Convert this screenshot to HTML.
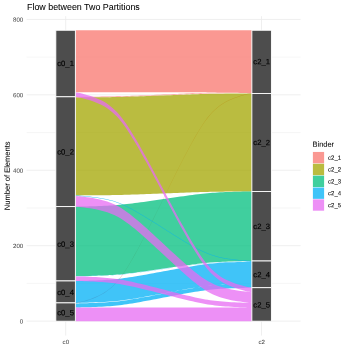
<!DOCTYPE html>
<html><head><meta charset="utf-8"><style>
html,body{margin:0;padding:0;background:#fff;}
svg{display:block;font-family:"Liberation Sans",sans-serif;will-change:transform;}
</style></head><body>
<svg width="349" height="349" viewBox="0 0 349 349">
<rect width="349" height="349" fill="#ffffff"/>
<line x1="26.6" x2="300.6" y1="283.39" y2="283.39" stroke="#ebebeb" stroke-width="0.45"/>
<line x1="26.6" x2="300.6" y1="207.96" y2="207.96" stroke="#ebebeb" stroke-width="0.45"/>
<line x1="26.6" x2="300.6" y1="132.54" y2="132.54" stroke="#ebebeb" stroke-width="0.45"/>
<line x1="26.6" x2="300.6" y1="57.11" y2="57.11" stroke="#ebebeb" stroke-width="0.45"/>
<line x1="26.6" x2="300.6" y1="321.10" y2="321.10" stroke="#ebebeb" stroke-width="0.82"/>
<line x1="26.6" x2="300.6" y1="245.67" y2="245.67" stroke="#ebebeb" stroke-width="0.82"/>
<line x1="26.6" x2="300.6" y1="170.25" y2="170.25" stroke="#ebebeb" stroke-width="0.82"/>
<line x1="26.6" x2="300.6" y1="94.82" y2="94.82" stroke="#ebebeb" stroke-width="0.82"/>
<line x1="26.6" x2="300.6" y1="19.40" y2="19.40" stroke="#ebebeb" stroke-width="0.82"/>
<line x1="65.7" x2="65.7" y1="16.20" y2="335.60" stroke="#ebebeb" stroke-width="0.82"/>
<line x1="261.5" x2="261.5" y1="16.20" y2="335.60" stroke="#ebebeb" stroke-width="0.82"/>
<path d="M75.38,30.25 L75.41,30.25 L75.58,30.25 L76.03,30.25 L76.85,30.25 L78.08,30.25 L79.76,30.25 L81.84,30.25 L84.28,30.25 L86.99,30.25 L89.88,30.25 L92.87,30.25 L95.88,30.25 L98.84,30.25 L101.73,30.25 L104.52,30.25 L107.21,30.25 L109.80,30.25 L112.30,30.25 L114.74,30.25 L117.14,30.25 L119.53,30.25 L121.93,30.25 L124.36,30.25 L126.86,30.25 L129.42,30.25 L132.07,30.25 L134.82,30.25 L137.66,30.25 L140.61,30.25 L143.67,30.25 L146.82,30.25 L150.06,30.25 L153.38,30.25 L156.76,30.25 L160.19,30.25 L163.63,30.25 L167.07,30.25 L170.50,30.25 L173.88,30.25 L177.20,30.25 L180.44,30.25 L183.59,30.25 L186.65,30.25 L189.60,30.25 L192.44,30.25 L195.19,30.25 L197.84,30.25 L200.40,30.25 L202.90,30.25 L205.33,30.25 L207.73,30.25 L210.12,30.25 L212.52,30.25 L214.96,30.25 L217.46,30.25 L220.05,30.25 L222.74,30.25 L225.53,30.25 L228.42,30.25 L231.38,30.25 L234.39,30.25 L237.38,30.25 L240.27,30.25 L242.98,30.25 L245.42,30.25 L247.50,30.25 L249.18,30.25 L250.41,30.25 L251.23,30.25 L251.68,30.25 L251.85,30.25 L251.88,30.25 L251.88,92.30 L251.85,92.30 L251.68,92.30 L251.23,92.30 L250.41,92.30 L249.18,92.30 L247.50,92.30 L245.42,92.30 L242.98,92.30 L240.27,92.30 L237.38,92.30 L234.39,92.30 L231.38,92.30 L228.42,92.30 L225.53,92.30 L222.74,92.30 L220.05,92.30 L217.46,92.30 L214.96,92.30 L212.52,92.30 L210.12,92.30 L207.73,92.30 L205.33,92.30 L202.90,92.30 L200.40,92.30 L197.84,92.30 L195.19,92.30 L192.44,92.30 L189.60,92.30 L186.65,92.30 L183.59,92.30 L180.44,92.30 L177.20,92.30 L173.88,92.30 L170.50,92.30 L167.07,92.30 L163.63,92.30 L160.19,92.30 L156.76,92.30 L153.38,92.30 L150.06,92.30 L146.82,92.30 L143.67,92.30 L140.61,92.30 L137.66,92.30 L134.82,92.30 L132.07,92.30 L129.42,92.30 L126.86,92.30 L124.36,92.30 L121.93,92.30 L119.53,92.30 L117.14,92.30 L114.74,92.30 L112.30,92.30 L109.80,92.30 L107.21,92.30 L104.52,92.30 L101.73,92.30 L98.84,92.30 L95.88,92.30 L92.87,92.30 L89.88,92.30 L86.99,92.30 L84.28,92.30 L81.84,92.30 L79.76,92.30 L78.08,92.30 L76.85,92.30 L76.03,92.30 L75.58,92.30 L75.41,92.30 L75.38,92.30Z M75.38,96.80 L75.41,96.80 L75.58,96.80 L76.03,96.80 L76.85,96.79 L78.08,96.79 L79.76,96.78 L81.84,96.77 L84.28,96.76 L86.99,96.74 L89.88,96.72 L92.87,96.70 L95.88,96.67 L98.84,96.64 L101.73,96.61 L104.52,96.57 L107.21,96.54 L109.80,96.49 L112.30,96.45 L114.74,96.39 L117.14,96.34 L119.53,96.28 L121.93,96.21 L124.36,96.13 L126.86,96.05 L129.42,95.96 L132.07,95.86 L134.82,95.76 L137.66,95.65 L140.61,95.53 L143.67,95.40 L146.82,95.27 L150.06,95.14 L153.38,94.99 L156.76,94.85 L160.19,94.70 L163.63,94.55 L167.07,94.40 L170.50,94.25 L173.88,94.11 L177.20,93.96 L180.44,93.83 L183.59,93.70 L186.65,93.57 L189.60,93.45 L192.44,93.34 L195.19,93.24 L197.84,93.14 L200.40,93.05 L202.90,92.97 L205.33,92.89 L207.73,92.82 L210.12,92.76 L212.52,92.71 L214.96,92.65 L217.46,92.61 L220.05,92.56 L222.74,92.53 L225.53,92.49 L228.42,92.46 L231.38,92.43 L234.39,92.40 L237.38,92.38 L240.27,92.36 L242.98,92.34 L245.42,92.33 L247.50,92.32 L249.18,92.31 L250.41,92.31 L251.23,92.30 L251.68,92.30 L251.85,92.30 L251.88,92.30 L251.88,92.90 L251.85,92.90 L251.68,92.90 L251.23,92.90 L250.41,92.91 L249.18,92.91 L247.50,92.92 L245.42,92.93 L242.98,92.94 L240.27,92.96 L237.38,92.98 L234.39,93.00 L231.38,93.03 L228.42,93.06 L225.53,93.09 L222.74,93.13 L220.05,93.16 L217.46,93.21 L214.96,93.25 L212.52,93.31 L210.12,93.36 L207.73,93.42 L205.33,93.49 L202.90,93.57 L200.40,93.65 L197.84,93.74 L195.19,93.84 L192.44,93.94 L189.60,94.05 L186.65,94.17 L183.59,94.30 L180.44,94.43 L177.20,94.56 L173.88,94.71 L170.50,94.85 L167.07,95.00 L163.63,95.15 L160.19,95.30 L156.76,95.45 L153.38,95.59 L150.06,95.74 L146.82,95.87 L143.67,96.00 L140.61,96.13 L137.66,96.25 L134.82,96.36 L132.07,96.46 L129.42,96.56 L126.86,96.65 L124.36,96.73 L121.93,96.81 L119.53,96.88 L117.14,96.94 L114.74,96.99 L112.30,97.05 L109.80,97.09 L107.21,97.14 L104.52,97.17 L101.73,97.21 L98.84,97.24 L95.88,97.27 L92.87,97.30 L89.88,97.32 L86.99,97.34 L84.28,97.36 L81.84,97.37 L79.76,97.38 L78.08,97.39 L76.85,97.39 L76.03,97.40 L75.58,97.40 L75.41,97.40 L75.38,97.40Z M75.38,302.90 L75.41,302.90 L75.58,302.87 L76.03,302.79 L76.85,302.64 L78.08,302.40 L79.76,302.03 L81.84,301.53 L84.28,300.89 L86.99,300.10 L89.88,299.17 L92.87,298.09 L95.88,296.87 L98.84,295.51 L101.73,294.01 L104.52,292.36 L107.21,290.55 L109.80,288.56 L112.30,286.39 L114.74,284.00 L117.14,281.36 L119.53,278.46 L121.93,275.26 L124.36,271.75 L126.86,267.90 L129.42,263.73 L132.07,259.21 L134.82,254.36 L137.66,249.16 L140.61,243.63 L143.67,237.78 L146.82,231.64 L150.06,225.23 L153.38,218.60 L156.76,211.80 L160.19,204.88 L163.63,197.90 L167.07,190.92 L170.50,184.00 L173.88,177.20 L177.20,170.57 L180.44,164.16 L183.59,158.02 L186.65,152.17 L189.60,146.64 L192.44,141.44 L195.19,136.59 L197.84,132.07 L200.40,127.90 L202.90,124.05 L205.33,120.54 L207.73,117.34 L210.12,114.44 L212.52,111.80 L214.96,109.41 L217.46,107.24 L220.05,105.25 L222.74,103.44 L225.53,101.79 L228.42,100.29 L231.38,98.93 L234.39,97.71 L237.38,96.63 L240.27,95.70 L242.98,94.91 L245.42,94.27 L247.50,93.77 L249.18,93.40 L250.41,93.16 L251.23,93.01 L251.68,92.93 L251.85,92.90 L251.88,92.90 L251.88,93.45 L251.85,93.45 L251.68,93.48 L251.23,93.56 L250.41,93.71 L249.18,93.95 L247.50,94.32 L245.42,94.82 L242.98,95.46 L240.27,96.25 L237.38,97.18 L234.39,98.26 L231.38,99.48 L228.42,100.84 L225.53,102.34 L222.74,103.99 L220.05,105.80 L217.46,107.79 L214.96,109.96 L212.52,112.35 L210.12,114.99 L207.73,117.89 L205.33,121.09 L202.90,124.60 L200.40,128.45 L197.84,132.62 L195.19,137.14 L192.44,141.99 L189.60,147.19 L186.65,152.72 L183.59,158.57 L180.44,164.71 L177.20,171.12 L173.88,177.75 L170.50,184.55 L167.07,191.47 L163.63,198.45 L160.19,205.43 L156.76,212.35 L153.38,219.15 L150.06,225.78 L146.82,232.19 L143.67,238.33 L140.61,244.18 L137.66,249.71 L134.82,254.91 L132.07,259.76 L129.42,264.28 L126.86,268.45 L124.36,272.30 L121.93,275.81 L119.53,279.01 L117.14,281.91 L114.74,284.55 L112.30,286.94 L109.80,289.11 L107.21,291.10 L104.52,292.91 L101.73,294.56 L98.84,296.06 L95.88,297.42 L92.87,298.64 L89.88,299.72 L86.99,300.65 L84.28,301.44 L81.84,302.08 L79.76,302.58 L78.08,302.95 L76.85,303.19 L76.03,303.34 L75.58,303.42 L75.41,303.45 L75.38,303.45Z" fill="#F8766D" fill-opacity="0.75"/>
<path d="M75.38,97.40 L75.41,97.40 L75.58,97.40 L76.03,97.40 L76.85,97.40 L78.08,97.39 L79.76,97.38 L81.84,97.37 L84.28,97.36 L86.99,97.35 L89.88,97.33 L92.87,97.31 L95.88,97.29 L98.84,97.26 L101.73,97.23 L104.52,97.20 L107.21,97.17 L109.80,97.13 L112.30,97.09 L114.74,97.04 L117.14,96.99 L119.53,96.94 L121.93,96.88 L124.36,96.81 L126.86,96.74 L129.42,96.66 L132.07,96.58 L134.82,96.49 L137.66,96.39 L140.61,96.29 L143.67,96.18 L146.82,96.06 L150.06,95.94 L153.38,95.81 L156.76,95.69 L160.19,95.56 L163.63,95.42 L167.07,95.29 L170.50,95.16 L173.88,95.04 L177.20,94.91 L180.44,94.79 L183.59,94.67 L186.65,94.56 L189.60,94.46 L192.44,94.36 L195.19,94.27 L197.84,94.19 L200.40,94.11 L202.90,94.04 L205.33,93.97 L207.73,93.91 L210.12,93.86 L212.52,93.81 L214.96,93.76 L217.46,93.72 L220.05,93.68 L222.74,93.65 L225.53,93.62 L228.42,93.59 L231.38,93.56 L234.39,93.54 L237.38,93.52 L240.27,93.50 L242.98,93.49 L245.42,93.48 L247.50,93.47 L249.18,93.46 L250.41,93.45 L251.23,93.45 L251.68,93.45 L251.85,93.45 L251.88,93.45 L251.88,191.45 L251.85,191.45 L251.68,191.45 L251.23,191.45 L250.41,191.45 L249.18,191.46 L247.50,191.47 L245.42,191.48 L242.98,191.49 L240.27,191.50 L237.38,191.52 L234.39,191.54 L231.38,191.56 L228.42,191.59 L225.53,191.62 L222.74,191.65 L220.05,191.68 L217.46,191.72 L214.96,191.76 L212.52,191.81 L210.12,191.86 L207.73,191.91 L205.33,191.97 L202.90,192.04 L200.40,192.11 L197.84,192.19 L195.19,192.27 L192.44,192.36 L189.60,192.46 L186.65,192.56 L183.59,192.67 L180.44,192.79 L177.20,192.91 L173.88,193.04 L170.50,193.16 L167.07,193.29 L163.63,193.42 L160.19,193.56 L156.76,193.69 L153.38,193.81 L150.06,193.94 L146.82,194.06 L143.67,194.18 L140.61,194.29 L137.66,194.39 L134.82,194.49 L132.07,194.58 L129.42,194.66 L126.86,194.74 L124.36,194.81 L121.93,194.88 L119.53,194.94 L117.14,194.99 L114.74,195.04 L112.30,195.09 L109.80,195.13 L107.21,195.17 L104.52,195.20 L101.73,195.23 L98.84,195.26 L95.88,195.29 L92.87,195.31 L89.88,195.33 L86.99,195.35 L84.28,195.36 L81.84,195.37 L79.76,195.38 L78.08,195.39 L76.85,195.40 L76.03,195.40 L75.58,195.40 L75.41,195.40 L75.38,195.40Z" fill="#A3A500" fill-opacity="0.75"/>
<path d="M75.38,206.60 L75.41,206.60 L75.58,206.60 L76.03,206.59 L76.85,206.58 L78.08,206.56 L79.76,206.54 L81.84,206.50 L84.28,206.46 L86.99,206.40 L89.88,206.33 L92.87,206.25 L95.88,206.16 L98.84,206.07 L101.73,205.96 L104.52,205.84 L107.21,205.71 L109.80,205.57 L112.30,205.41 L114.74,205.24 L117.14,205.05 L119.53,204.84 L121.93,204.61 L124.36,204.35 L126.86,204.07 L129.42,203.77 L132.07,203.45 L134.82,203.10 L137.66,202.72 L140.61,202.32 L143.67,201.90 L146.82,201.46 L150.06,201.00 L153.38,200.52 L156.76,200.03 L160.19,199.53 L163.63,199.03 L167.07,198.52 L170.50,198.02 L173.88,197.53 L177.20,197.05 L180.44,196.59 L183.59,196.15 L186.65,195.73 L189.60,195.33 L192.44,194.95 L195.19,194.60 L197.84,194.28 L200.40,193.97 L202.90,193.70 L205.33,193.44 L207.73,193.21 L210.12,193.00 L212.52,192.81 L214.96,192.64 L217.46,192.48 L220.05,192.34 L222.74,192.21 L225.53,192.09 L228.42,191.98 L231.38,191.89 L234.39,191.80 L237.38,191.72 L240.27,191.65 L242.98,191.59 L245.42,191.55 L247.50,191.51 L249.18,191.49 L250.41,191.47 L251.23,191.46 L251.68,191.45 L251.85,191.45 L251.88,191.45 L251.88,261.00 L251.85,261.00 L251.68,261.00 L251.23,261.01 L250.41,261.02 L249.18,261.04 L247.50,261.06 L245.42,261.10 L242.98,261.14 L240.27,261.20 L237.38,261.27 L234.39,261.35 L231.38,261.44 L228.42,261.53 L225.53,261.64 L222.74,261.76 L220.05,261.89 L217.46,262.03 L214.96,262.19 L212.52,262.36 L210.12,262.55 L207.73,262.76 L205.33,262.99 L202.90,263.25 L200.40,263.53 L197.84,263.83 L195.19,264.15 L192.44,264.50 L189.60,264.88 L186.65,265.28 L183.59,265.70 L180.44,266.14 L177.20,266.60 L173.88,267.08 L170.50,267.57 L167.07,268.07 L163.63,268.57 L160.19,269.08 L156.76,269.58 L153.38,270.07 L150.06,270.55 L146.82,271.01 L143.67,271.45 L140.61,271.87 L137.66,272.27 L134.82,272.65 L132.07,273.00 L129.42,273.32 L126.86,273.62 L124.36,273.90 L121.93,274.16 L119.53,274.39 L117.14,274.60 L114.74,274.79 L112.30,274.96 L109.80,275.12 L107.21,275.26 L104.52,275.39 L101.73,275.51 L98.84,275.62 L95.88,275.71 L92.87,275.80 L89.88,275.88 L86.99,275.95 L84.28,276.01 L81.84,276.05 L79.76,276.09 L78.08,276.11 L76.85,276.13 L76.03,276.14 L75.58,276.15 L75.41,276.15 L75.38,276.15Z" fill="#00BF7D" fill-opacity="0.75"/>
<path d="M75.38,195.40 L75.41,195.40 L75.58,195.41 L76.03,195.43 L76.85,195.48 L78.08,195.56 L79.76,195.67 L81.84,195.83 L84.28,196.03 L86.99,196.27 L89.88,196.57 L92.87,196.90 L95.88,197.28 L98.84,197.71 L101.73,198.18 L104.52,198.69 L107.21,199.26 L109.80,199.88 L112.30,200.56 L114.74,201.30 L117.14,202.13 L119.53,203.03 L121.93,204.03 L124.36,205.13 L126.86,206.33 L129.42,207.64 L132.07,209.05 L134.82,210.56 L137.66,212.19 L140.61,213.91 L143.67,215.74 L146.82,217.66 L150.06,219.66 L153.38,221.73 L156.76,223.86 L160.19,226.02 L163.63,228.20 L167.07,230.38 L170.50,232.54 L173.88,234.67 L177.20,236.74 L180.44,238.74 L183.59,240.66 L186.65,242.49 L189.60,244.21 L192.44,245.84 L195.19,247.35 L197.84,248.76 L200.40,250.07 L202.90,251.27 L205.33,252.37 L207.73,253.37 L210.12,254.27 L212.52,255.10 L214.96,255.84 L217.46,256.52 L220.05,257.14 L222.74,257.71 L225.53,258.22 L228.42,258.69 L231.38,259.12 L234.39,259.50 L237.38,259.83 L240.27,260.13 L242.98,260.37 L245.42,260.57 L247.50,260.73 L249.18,260.84 L250.41,260.92 L251.23,260.97 L251.68,260.99 L251.85,261.00 L251.88,261.00 L251.88,261.50 L251.85,261.50 L251.68,261.49 L251.23,261.47 L250.41,261.42 L249.18,261.34 L247.50,261.23 L245.42,261.07 L242.98,260.87 L240.27,260.63 L237.38,260.33 L234.39,260.00 L231.38,259.62 L228.42,259.19 L225.53,258.72 L222.74,258.21 L220.05,257.64 L217.46,257.02 L214.96,256.34 L212.52,255.60 L210.12,254.77 L207.73,253.87 L205.33,252.87 L202.90,251.77 L200.40,250.57 L197.84,249.26 L195.19,247.85 L192.44,246.34 L189.60,244.71 L186.65,242.99 L183.59,241.16 L180.44,239.24 L177.20,237.24 L173.88,235.17 L170.50,233.04 L167.07,230.88 L163.63,228.70 L160.19,226.52 L156.76,224.36 L153.38,222.23 L150.06,220.16 L146.82,218.16 L143.67,216.24 L140.61,214.41 L137.66,212.69 L134.82,211.06 L132.07,209.55 L129.42,208.14 L126.86,206.83 L124.36,205.63 L121.93,204.53 L119.53,203.53 L117.14,202.63 L114.74,201.80 L112.30,201.06 L109.80,200.38 L107.21,199.76 L104.52,199.19 L101.73,198.68 L98.84,198.21 L95.88,197.78 L92.87,197.40 L89.88,197.07 L86.99,196.77 L84.28,196.53 L81.84,196.33 L79.76,196.17 L78.08,196.06 L76.85,195.98 L76.03,195.93 L75.58,195.91 L75.41,195.90 L75.38,195.90Z M75.38,276.15 L75.41,276.15 L75.58,276.15 L76.03,276.14 L76.85,276.13 L78.08,276.11 L79.76,276.09 L81.84,276.05 L84.28,276.01 L86.99,275.95 L89.88,275.89 L92.87,275.81 L95.88,275.73 L98.84,275.63 L101.73,275.53 L104.52,275.41 L107.21,275.29 L109.80,275.15 L112.30,275.00 L114.74,274.83 L117.14,274.65 L119.53,274.45 L121.93,274.22 L124.36,273.98 L126.86,273.71 L129.42,273.42 L132.07,273.10 L134.82,272.76 L137.66,272.40 L140.61,272.02 L143.67,271.61 L146.82,271.18 L150.06,270.73 L153.38,270.27 L156.76,269.79 L160.19,269.31 L163.63,268.82 L167.07,268.34 L170.50,267.86 L173.88,267.38 L177.20,266.92 L180.44,266.47 L183.59,266.04 L186.65,265.63 L189.60,265.25 L192.44,264.89 L195.19,264.55 L197.84,264.23 L200.40,263.94 L202.90,263.67 L205.33,263.43 L207.73,263.20 L210.12,263.00 L212.52,262.82 L214.96,262.65 L217.46,262.50 L220.05,262.36 L222.74,262.24 L225.53,262.12 L228.42,262.02 L231.38,261.92 L234.39,261.84 L237.38,261.76 L240.27,261.70 L242.98,261.64 L245.42,261.60 L247.50,261.56 L249.18,261.54 L250.41,261.52 L251.23,261.51 L251.68,261.50 L251.85,261.50 L251.88,261.50 L251.88,261.70 L251.85,261.70 L251.68,261.70 L251.23,261.71 L250.41,261.72 L249.18,261.74 L247.50,261.76 L245.42,261.80 L242.98,261.84 L240.27,261.90 L237.38,261.96 L234.39,262.04 L231.38,262.12 L228.42,262.22 L225.53,262.32 L222.74,262.44 L220.05,262.56 L217.46,262.70 L214.96,262.85 L212.52,263.02 L210.12,263.20 L207.73,263.40 L205.33,263.63 L202.90,263.87 L200.40,264.14 L197.84,264.43 L195.19,264.75 L192.44,265.09 L189.60,265.45 L186.65,265.83 L183.59,266.24 L180.44,266.67 L177.20,267.12 L173.88,267.58 L170.50,268.06 L167.07,268.54 L163.63,269.02 L160.19,269.51 L156.76,269.99 L153.38,270.47 L150.06,270.93 L146.82,271.38 L143.67,271.81 L140.61,272.22 L137.66,272.60 L134.82,272.96 L132.07,273.30 L129.42,273.62 L126.86,273.91 L124.36,274.18 L121.93,274.42 L119.53,274.65 L117.14,274.85 L114.74,275.03 L112.30,275.20 L109.80,275.35 L107.21,275.49 L104.52,275.61 L101.73,275.73 L98.84,275.83 L95.88,275.93 L92.87,276.01 L89.88,276.09 L86.99,276.15 L84.28,276.21 L81.84,276.25 L79.76,276.29 L78.08,276.31 L76.85,276.33 L76.03,276.34 L75.58,276.35 L75.41,276.35 L75.38,276.35Z M75.38,280.95 L75.41,280.95 L75.58,280.95 L76.03,280.94 L76.85,280.93 L78.08,280.90 L79.76,280.87 L81.84,280.82 L84.28,280.77 L86.99,280.69 L89.88,280.61 L92.87,280.51 L95.88,280.40 L98.84,280.27 L101.73,280.13 L104.52,279.98 L107.21,279.82 L109.80,279.64 L112.30,279.44 L114.74,279.22 L117.14,278.98 L119.53,278.71 L121.93,278.42 L124.36,278.09 L126.86,277.74 L129.42,277.36 L132.07,276.95 L134.82,276.50 L137.66,276.02 L140.61,275.52 L143.67,274.98 L146.82,274.42 L150.06,273.83 L153.38,273.22 L156.76,272.60 L160.19,271.96 L163.63,271.32 L167.07,270.69 L170.50,270.05 L173.88,269.43 L177.20,268.82 L180.44,268.23 L183.59,267.67 L186.65,267.13 L189.60,266.63 L192.44,266.15 L195.19,265.70 L197.84,265.29 L200.40,264.91 L202.90,264.56 L205.33,264.23 L207.73,263.94 L210.12,263.67 L212.52,263.43 L214.96,263.21 L217.46,263.01 L220.05,262.83 L222.74,262.67 L225.53,262.52 L228.42,262.38 L231.38,262.25 L234.39,262.14 L237.38,262.04 L240.27,261.96 L242.98,261.88 L245.42,261.83 L247.50,261.78 L249.18,261.75 L250.41,261.72 L251.23,261.71 L251.68,261.70 L251.85,261.70 L251.88,261.70 L251.88,283.65 L251.85,283.65 L251.68,283.65 L251.23,283.66 L250.41,283.67 L249.18,283.70 L247.50,283.73 L245.42,283.78 L242.98,283.83 L240.27,283.91 L237.38,283.99 L234.39,284.09 L231.38,284.20 L228.42,284.33 L225.53,284.47 L222.74,284.62 L220.05,284.78 L217.46,284.96 L214.96,285.16 L212.52,285.38 L210.12,285.62 L207.73,285.89 L205.33,286.18 L202.90,286.51 L200.40,286.86 L197.84,287.24 L195.19,287.65 L192.44,288.10 L189.60,288.58 L186.65,289.08 L183.59,289.62 L180.44,290.18 L177.20,290.77 L173.88,291.38 L170.50,292.00 L167.07,292.64 L163.63,293.27 L160.19,293.91 L156.76,294.55 L153.38,295.17 L150.06,295.78 L146.82,296.37 L143.67,296.93 L140.61,297.47 L137.66,297.97 L134.82,298.45 L132.07,298.90 L129.42,299.31 L126.86,299.69 L124.36,300.04 L121.93,300.37 L119.53,300.66 L117.14,300.93 L114.74,301.17 L112.30,301.39 L109.80,301.59 L107.21,301.77 L104.52,301.93 L101.73,302.08 L98.84,302.22 L95.88,302.35 L92.87,302.46 L89.88,302.56 L86.99,302.64 L84.28,302.72 L81.84,302.77 L79.76,302.82 L78.08,302.85 L76.85,302.88 L76.03,302.89 L75.58,302.90 L75.41,302.90 L75.38,302.90Z M75.38,303.45 L75.41,303.45 L75.58,303.45 L76.03,303.44 L76.85,303.43 L78.08,303.40 L79.76,303.37 L81.84,303.32 L84.28,303.26 L86.99,303.19 L89.88,303.10 L92.87,303.00 L95.88,302.88 L98.84,302.75 L101.73,302.61 L104.52,302.46 L107.21,302.29 L109.80,302.10 L112.30,301.89 L114.74,301.67 L117.14,301.42 L119.53,301.15 L121.93,300.84 L124.36,300.51 L126.86,300.15 L129.42,299.76 L132.07,299.33 L134.82,298.87 L137.66,298.38 L140.61,297.86 L143.67,297.31 L146.82,296.73 L150.06,296.13 L153.38,295.50 L156.76,294.86 L160.19,294.21 L163.63,293.55 L167.07,292.89 L170.50,292.24 L173.88,291.60 L177.20,290.97 L180.44,290.37 L183.59,289.79 L186.65,289.24 L189.60,288.72 L192.44,288.23 L195.19,287.77 L197.84,287.34 L200.40,286.95 L202.90,286.59 L205.33,286.26 L207.73,285.95 L210.12,285.68 L212.52,285.43 L214.96,285.21 L217.46,285.00 L220.05,284.81 L222.74,284.64 L225.53,284.49 L228.42,284.35 L231.38,284.22 L234.39,284.10 L237.38,284.00 L240.27,283.91 L242.98,283.84 L245.42,283.78 L247.50,283.73 L249.18,283.70 L250.41,283.67 L251.23,283.66 L251.68,283.65 L251.85,283.65 L251.88,283.65 L251.88,287.70 L251.85,287.70 L251.68,287.70 L251.23,287.71 L250.41,287.72 L249.18,287.75 L247.50,287.78 L245.42,287.83 L242.98,287.89 L240.27,287.96 L237.38,288.05 L234.39,288.15 L231.38,288.27 L228.42,288.40 L225.53,288.54 L222.74,288.69 L220.05,288.86 L217.46,289.05 L214.96,289.26 L212.52,289.48 L210.12,289.73 L207.73,290.00 L205.33,290.31 L202.90,290.64 L200.40,291.00 L197.84,291.39 L195.19,291.82 L192.44,292.28 L189.60,292.77 L186.65,293.29 L183.59,293.84 L180.44,294.42 L177.20,295.02 L173.88,295.65 L170.50,296.29 L167.07,296.94 L163.63,297.60 L160.19,298.26 L156.76,298.91 L153.38,299.55 L150.06,300.18 L146.82,300.78 L143.67,301.36 L140.61,301.91 L137.66,302.43 L134.82,302.92 L132.07,303.38 L129.42,303.81 L126.86,304.20 L124.36,304.56 L121.93,304.89 L119.53,305.20 L117.14,305.47 L114.74,305.72 L112.30,305.94 L109.80,306.15 L107.21,306.34 L104.52,306.51 L101.73,306.66 L98.84,306.80 L95.88,306.93 L92.87,307.05 L89.88,307.15 L86.99,307.24 L84.28,307.31 L81.84,307.37 L79.76,307.42 L78.08,307.45 L76.85,307.48 L76.03,307.49 L75.58,307.50 L75.41,307.50 L75.38,307.50Z" fill="#00B0F6" fill-opacity="0.75"/>
<path d="M75.38,92.30 L75.41,92.30 L75.58,92.33 L76.03,92.40 L76.85,92.54 L78.08,92.77 L79.76,93.11 L81.84,93.57 L84.28,94.17 L86.99,94.90 L89.88,95.77 L92.87,96.78 L95.88,97.91 L98.84,99.18 L101.73,100.57 L104.52,102.11 L107.21,103.79 L109.80,105.64 L112.30,107.66 L114.74,109.89 L117.14,112.34 L119.53,115.04 L121.93,118.02 L124.36,121.29 L126.86,124.87 L129.42,128.75 L132.07,132.95 L134.82,137.46 L137.66,142.30 L140.61,147.45 L143.67,152.89 L146.82,158.61 L150.06,164.57 L153.38,170.74 L156.76,177.07 L160.19,183.50 L163.63,190.00 L167.07,196.50 L170.50,202.93 L173.88,209.26 L177.20,215.43 L180.44,221.39 L183.59,227.11 L186.65,232.55 L189.60,237.70 L192.44,242.54 L195.19,247.05 L197.84,251.25 L200.40,255.13 L202.90,258.71 L205.33,261.98 L207.73,264.96 L210.12,267.66 L212.52,270.11 L214.96,272.34 L217.46,274.36 L220.05,276.21 L222.74,277.89 L225.53,279.43 L228.42,280.82 L231.38,282.09 L234.39,283.22 L237.38,284.23 L240.27,285.10 L242.98,285.83 L245.42,286.43 L247.50,286.89 L249.18,287.23 L250.41,287.46 L251.23,287.60 L251.68,287.67 L251.85,287.70 L251.88,287.70 L251.88,292.20 L251.85,292.20 L251.68,292.17 L251.23,292.10 L250.41,291.96 L249.18,291.73 L247.50,291.39 L245.42,290.93 L242.98,290.33 L240.27,289.60 L237.38,288.73 L234.39,287.72 L231.38,286.59 L228.42,285.32 L225.53,283.93 L222.74,282.39 L220.05,280.71 L217.46,278.86 L214.96,276.84 L212.52,274.61 L210.12,272.16 L207.73,269.46 L205.33,266.48 L202.90,263.21 L200.40,259.63 L197.84,255.75 L195.19,251.55 L192.44,247.04 L189.60,242.20 L186.65,237.05 L183.59,231.61 L180.44,225.89 L177.20,219.93 L173.88,213.76 L170.50,207.43 L167.07,201.00 L163.63,194.50 L160.19,188.00 L156.76,181.57 L153.38,175.24 L150.06,169.07 L146.82,163.11 L143.67,157.39 L140.61,151.95 L137.66,146.80 L134.82,141.96 L132.07,137.45 L129.42,133.25 L126.86,129.37 L124.36,125.79 L121.93,122.52 L119.53,119.54 L117.14,116.84 L114.74,114.39 L112.30,112.16 L109.80,110.14 L107.21,108.29 L104.52,106.61 L101.73,105.07 L98.84,103.68 L95.88,102.41 L92.87,101.28 L89.88,100.27 L86.99,99.40 L84.28,98.67 L81.84,98.07 L79.76,97.61 L78.08,97.27 L76.85,97.04 L76.03,96.90 L75.58,96.83 L75.41,96.80 L75.38,96.80Z M75.38,195.90 L75.41,195.90 L75.58,195.91 L76.03,195.95 L76.85,196.02 L78.08,196.13 L79.76,196.30 L81.84,196.53 L84.28,196.82 L86.99,197.18 L89.88,197.61 L92.87,198.11 L95.88,198.67 L98.84,199.29 L101.73,199.98 L104.52,200.74 L107.21,201.56 L109.80,202.47 L112.30,203.47 L114.74,204.57 L117.14,205.78 L119.53,207.11 L121.93,208.57 L124.36,210.19 L126.86,211.95 L129.42,213.86 L132.07,215.93 L134.82,218.16 L137.66,220.54 L140.61,223.08 L143.67,225.76 L146.82,228.58 L150.06,231.52 L153.38,234.56 L156.76,237.68 L160.19,240.85 L163.63,244.05 L167.07,247.25 L170.50,250.42 L173.88,253.54 L177.20,256.58 L180.44,259.52 L183.59,262.34 L186.65,265.02 L189.60,267.56 L192.44,269.94 L195.19,272.17 L197.84,274.24 L200.40,276.15 L202.90,277.91 L205.33,279.53 L207.73,280.99 L210.12,282.32 L212.52,283.53 L214.96,284.63 L217.46,285.63 L220.05,286.54 L222.74,287.36 L225.53,288.12 L228.42,288.81 L231.38,289.43 L234.39,289.99 L237.38,290.49 L240.27,290.92 L242.98,291.28 L245.42,291.57 L247.50,291.80 L249.18,291.97 L250.41,292.08 L251.23,292.15 L251.68,292.19 L251.85,292.20 L251.88,292.20 L251.88,302.90 L251.85,302.90 L251.68,302.89 L251.23,302.85 L250.41,302.78 L249.18,302.67 L247.50,302.50 L245.42,302.27 L242.98,301.98 L240.27,301.62 L237.38,301.19 L234.39,300.69 L231.38,300.13 L228.42,299.51 L225.53,298.82 L222.74,298.06 L220.05,297.24 L217.46,296.33 L214.96,295.33 L212.52,294.23 L210.12,293.02 L207.73,291.69 L205.33,290.23 L202.90,288.61 L200.40,286.85 L197.84,284.94 L195.19,282.87 L192.44,280.64 L189.60,278.26 L186.65,275.72 L183.59,273.04 L180.44,270.22 L177.20,267.28 L173.88,264.24 L170.50,261.12 L167.07,257.95 L163.63,254.75 L160.19,251.55 L156.76,248.38 L153.38,245.26 L150.06,242.22 L146.82,239.28 L143.67,236.46 L140.61,233.78 L137.66,231.24 L134.82,228.86 L132.07,226.63 L129.42,224.56 L126.86,222.65 L124.36,220.89 L121.93,219.27 L119.53,217.81 L117.14,216.48 L114.74,215.27 L112.30,214.17 L109.80,213.17 L107.21,212.26 L104.52,211.44 L101.73,210.68 L98.84,209.99 L95.88,209.37 L92.87,208.81 L89.88,208.31 L86.99,207.88 L84.28,207.52 L81.84,207.23 L79.76,207.00 L78.08,206.83 L76.85,206.72 L76.03,206.65 L75.58,206.61 L75.41,206.60 L75.38,206.60Z M75.38,276.35 L75.41,276.35 L75.58,276.35 L76.03,276.36 L76.85,276.38 L78.08,276.41 L79.76,276.46 L81.84,276.52 L84.28,276.60 L86.99,276.70 L89.88,276.82 L92.87,276.96 L95.88,277.11 L98.84,277.28 L101.73,277.47 L104.52,277.68 L107.21,277.91 L109.80,278.16 L112.30,278.44 L114.74,278.74 L117.14,279.07 L119.53,279.44 L121.93,279.84 L124.36,280.29 L126.86,280.77 L129.42,281.30 L132.07,281.87 L134.82,282.49 L137.66,283.14 L140.61,283.84 L143.67,284.58 L146.82,285.36 L150.06,286.17 L153.38,287.01 L156.76,287.87 L160.19,288.74 L163.63,289.62 L167.07,290.51 L170.50,291.38 L173.88,292.24 L177.20,293.08 L180.44,293.89 L183.59,294.67 L186.65,295.41 L189.60,296.11 L192.44,296.76 L195.19,297.38 L197.84,297.95 L200.40,298.47 L202.90,298.96 L205.33,299.41 L207.73,299.81 L210.12,300.18 L212.52,300.51 L214.96,300.81 L217.46,301.09 L220.05,301.34 L222.74,301.57 L225.53,301.78 L228.42,301.97 L231.38,302.14 L234.39,302.29 L237.38,302.43 L240.27,302.55 L242.98,302.65 L245.42,302.73 L247.50,302.79 L249.18,302.84 L250.41,302.87 L251.23,302.89 L251.68,302.90 L251.85,302.90 L251.88,302.90 L251.88,307.50 L251.85,307.50 L251.68,307.50 L251.23,307.49 L250.41,307.47 L249.18,307.44 L247.50,307.39 L245.42,307.33 L242.98,307.25 L240.27,307.15 L237.38,307.03 L234.39,306.89 L231.38,306.74 L228.42,306.57 L225.53,306.38 L222.74,306.17 L220.05,305.94 L217.46,305.69 L214.96,305.41 L212.52,305.11 L210.12,304.78 L207.73,304.41 L205.33,304.01 L202.90,303.56 L200.40,303.07 L197.84,302.55 L195.19,301.98 L192.44,301.36 L189.60,300.71 L186.65,300.01 L183.59,299.27 L180.44,298.49 L177.20,297.68 L173.88,296.84 L170.50,295.98 L167.07,295.11 L163.63,294.23 L160.19,293.34 L156.76,292.47 L153.38,291.61 L150.06,290.77 L146.82,289.96 L143.67,289.18 L140.61,288.44 L137.66,287.74 L134.82,287.09 L132.07,286.47 L129.42,285.90 L126.86,285.38 L124.36,284.89 L121.93,284.44 L119.53,284.04 L117.14,283.67 L114.74,283.34 L112.30,283.04 L109.80,282.76 L107.21,282.51 L104.52,282.28 L101.73,282.07 L98.84,281.88 L95.88,281.71 L92.87,281.56 L89.88,281.42 L86.99,281.30 L84.28,281.20 L81.84,281.12 L79.76,281.06 L78.08,281.01 L76.85,280.98 L76.03,280.96 L75.58,280.95 L75.41,280.95 L75.38,280.95Z M75.38,307.50 L75.41,307.50 L75.58,307.50 L76.03,307.50 L76.85,307.50 L78.08,307.50 L79.76,307.50 L81.84,307.50 L84.28,307.50 L86.99,307.50 L89.88,307.50 L92.87,307.50 L95.88,307.50 L98.84,307.50 L101.73,307.50 L104.52,307.50 L107.21,307.50 L109.80,307.50 L112.30,307.50 L114.74,307.50 L117.14,307.50 L119.53,307.50 L121.93,307.50 L124.36,307.50 L126.86,307.50 L129.42,307.50 L132.07,307.50 L134.82,307.50 L137.66,307.50 L140.61,307.50 L143.67,307.50 L146.82,307.50 L150.06,307.50 L153.38,307.50 L156.76,307.50 L160.19,307.50 L163.63,307.50 L167.07,307.50 L170.50,307.50 L173.88,307.50 L177.20,307.50 L180.44,307.50 L183.59,307.50 L186.65,307.50 L189.60,307.50 L192.44,307.50 L195.19,307.50 L197.84,307.50 L200.40,307.50 L202.90,307.50 L205.33,307.50 L207.73,307.50 L210.12,307.50 L212.52,307.50 L214.96,307.50 L217.46,307.50 L220.05,307.50 L222.74,307.50 L225.53,307.50 L228.42,307.50 L231.38,307.50 L234.39,307.50 L237.38,307.50 L240.27,307.50 L242.98,307.50 L245.42,307.50 L247.50,307.50 L249.18,307.50 L250.41,307.50 L251.23,307.50 L251.68,307.50 L251.85,307.50 L251.88,307.50 L251.88,321.20 L251.85,321.20 L251.68,321.20 L251.23,321.20 L250.41,321.20 L249.18,321.20 L247.50,321.20 L245.42,321.20 L242.98,321.20 L240.27,321.20 L237.38,321.20 L234.39,321.20 L231.38,321.20 L228.42,321.20 L225.53,321.20 L222.74,321.20 L220.05,321.20 L217.46,321.20 L214.96,321.20 L212.52,321.20 L210.12,321.20 L207.73,321.20 L205.33,321.20 L202.90,321.20 L200.40,321.20 L197.84,321.20 L195.19,321.20 L192.44,321.20 L189.60,321.20 L186.65,321.20 L183.59,321.20 L180.44,321.20 L177.20,321.20 L173.88,321.20 L170.50,321.20 L167.07,321.20 L163.63,321.20 L160.19,321.20 L156.76,321.20 L153.38,321.20 L150.06,321.20 L146.82,321.20 L143.67,321.20 L140.61,321.20 L137.66,321.20 L134.82,321.20 L132.07,321.20 L129.42,321.20 L126.86,321.20 L124.36,321.20 L121.93,321.20 L119.53,321.20 L117.14,321.20 L114.74,321.20 L112.30,321.20 L109.80,321.20 L107.21,321.20 L104.52,321.20 L101.73,321.20 L98.84,321.20 L95.88,321.20 L92.87,321.20 L89.88,321.20 L86.99,321.20 L84.28,321.20 L81.84,321.20 L79.76,321.20 L78.08,321.20 L76.85,321.20 L76.03,321.20 L75.58,321.20 L75.41,321.20 L75.38,321.20Z" fill="#E76BF3" fill-opacity="0.75"/>
<rect x="55.82" y="30.25" width="19.55" height="66.55" fill="#4d4d4d" stroke="#ffffff" stroke-width="0.9"/>
<rect x="55.82" y="96.80" width="19.55" height="109.80" fill="#4d4d4d" stroke="#ffffff" stroke-width="0.9"/>
<rect x="55.82" y="206.60" width="19.55" height="74.35" fill="#4d4d4d" stroke="#ffffff" stroke-width="0.9"/>
<rect x="55.82" y="280.95" width="19.55" height="21.95" fill="#4d4d4d" stroke="#ffffff" stroke-width="0.9"/>
<rect x="55.82" y="302.90" width="19.55" height="18.30" fill="#4d4d4d" stroke="#ffffff" stroke-width="0.9"/>
<text x="65.60" y="66.03" font-size="7.68" text-anchor="middle" fill="#000" stroke="#000" stroke-width="0.15" transform="rotate(0.04 65.60 66.03)">c0_1</text>
<text x="65.60" y="154.41" font-size="7.68" text-anchor="middle" fill="#000" stroke="#000" stroke-width="0.15" transform="rotate(0.04 65.60 154.41)">c0_2</text>
<text x="65.60" y="246.71" font-size="7.68" text-anchor="middle" fill="#000" stroke="#000" stroke-width="0.15" transform="rotate(0.04 65.60 246.71)">c0_3</text>
<text x="65.60" y="294.98" font-size="7.68" text-anchor="middle" fill="#000" stroke="#000" stroke-width="0.15" transform="rotate(0.04 65.60 294.98)">c0_4</text>
<text x="65.60" y="315.15" font-size="7.68" text-anchor="middle" fill="#000" stroke="#000" stroke-width="0.15" transform="rotate(0.04 65.60 315.15)">c0_5</text>
<rect x="251.87" y="30.25" width="19.55" height="63.20" fill="#4d4d4d" stroke="#ffffff" stroke-width="0.9"/>
<rect x="251.87" y="93.45" width="19.55" height="98.00" fill="#4d4d4d" stroke="#ffffff" stroke-width="0.9"/>
<rect x="251.87" y="191.45" width="19.55" height="69.55" fill="#4d4d4d" stroke="#ffffff" stroke-width="0.9"/>
<rect x="251.87" y="261.00" width="19.55" height="26.70" fill="#4d4d4d" stroke="#ffffff" stroke-width="0.9"/>
<rect x="251.87" y="287.70" width="19.55" height="33.50" fill="#4d4d4d" stroke="#ffffff" stroke-width="0.9"/>
<text x="261.65" y="64.35" font-size="7.68" text-anchor="middle" fill="#000" stroke="#000" stroke-width="0.15" transform="rotate(0.04 261.65 64.35)">c2_1</text>
<text x="261.65" y="145.14" font-size="7.68" text-anchor="middle" fill="#000" stroke="#000" stroke-width="0.15" transform="rotate(0.04 261.65 145.14)">c2_2</text>
<text x="261.65" y="229.12" font-size="7.68" text-anchor="middle" fill="#000" stroke="#000" stroke-width="0.15" transform="rotate(0.04 261.65 229.12)">c2_3</text>
<text x="261.65" y="277.36" font-size="7.68" text-anchor="middle" fill="#000" stroke="#000" stroke-width="0.15" transform="rotate(0.04 261.65 277.36)">c2_4</text>
<text x="261.65" y="307.53" font-size="7.68" text-anchor="middle" fill="#000" stroke="#000" stroke-width="0.15" transform="rotate(0.04 261.65 307.53)">c2_5</text>
<text x="23.20" y="323.50" font-size="6.10" text-anchor="end" fill="#4d4d4d" stroke="#4d4d4d" stroke-width="0.05" transform="rotate(0.04 23.20 323.50)">0</text>
<text x="23.20" y="248.07" font-size="6.10" text-anchor="end" fill="#4d4d4d" stroke="#4d4d4d" stroke-width="0.05" transform="rotate(0.04 23.20 248.07)">200</text>
<text x="23.20" y="172.65" font-size="6.10" text-anchor="end" fill="#4d4d4d" stroke="#4d4d4d" stroke-width="0.05" transform="rotate(0.04 23.20 172.65)">400</text>
<text x="23.20" y="97.22" font-size="6.10" text-anchor="end" fill="#4d4d4d" stroke="#4d4d4d" stroke-width="0.05" transform="rotate(0.04 23.20 97.22)">600</text>
<text x="23.20" y="21.80" font-size="6.10" text-anchor="end" fill="#4d4d4d" stroke="#4d4d4d" stroke-width="0.05" transform="rotate(0.04 23.20 21.80)">800</text>
<text x="65.80" y="344.10" font-size="6.10" text-anchor="middle" fill="#4d4d4d" stroke="#4d4d4d" stroke-width="0.05" transform="rotate(0.04 65.80 344.10)">c0</text>
<text x="261.60" y="344.10" font-size="6.10" text-anchor="middle" fill="#4d4d4d" stroke="#4d4d4d" stroke-width="0.05" transform="rotate(0.04 261.60 344.10)">c2</text>
<text x="27.00" y="10.20" font-size="8.88" fill="#000" stroke="#000" stroke-width="0.05" transform="rotate(0.02 27.00 10.20)">Flow between Two Partitions</text>
<text x="9.80" y="175.80" font-size="7.55" text-anchor="middle" fill="#000" stroke="#000" stroke-width="0.08" transform="rotate(-89.95 9.80 175.80)">Number of Elements</text>
<text x="312.60" y="146.80" font-size="7.45" fill="#000" stroke="#000" stroke-width="0.05" transform="rotate(0.04 312.60 146.80)">Binder</text>
<rect x="312.9" y="151.95" width="11.2" height="11.35" fill="#F8766D" fill-opacity="0.75"/>
<text x="328.10" y="159.78" font-size="6.00" fill="#000" stroke="#000" stroke-width="0.05" transform="rotate(0.04 328.10 159.78)">c2_1</text>
<rect x="312.9" y="163.80" width="11.2" height="11.35" fill="#A3A500" fill-opacity="0.75"/>
<text x="328.10" y="171.62" font-size="6.00" fill="#000" stroke="#000" stroke-width="0.05" transform="rotate(0.04 328.10 171.62)">c2_2</text>
<rect x="312.9" y="175.65" width="11.2" height="11.35" fill="#00BF7D" fill-opacity="0.75"/>
<text x="328.10" y="183.47" font-size="6.00" fill="#000" stroke="#000" stroke-width="0.05" transform="rotate(0.04 328.10 183.47)">c2_3</text>
<rect x="312.9" y="187.50" width="11.2" height="11.35" fill="#00B0F6" fill-opacity="0.75"/>
<text x="328.10" y="195.33" font-size="6.00" fill="#000" stroke="#000" stroke-width="0.05" transform="rotate(0.04 328.10 195.33)">c2_4</text>
<rect x="312.9" y="199.35" width="11.2" height="11.35" fill="#E76BF3" fill-opacity="0.75"/>
<text x="328.10" y="207.18" font-size="6.00" fill="#000" stroke="#000" stroke-width="0.05" transform="rotate(0.04 328.10 207.18)">c2_5</text>
</svg>
</body></html>
